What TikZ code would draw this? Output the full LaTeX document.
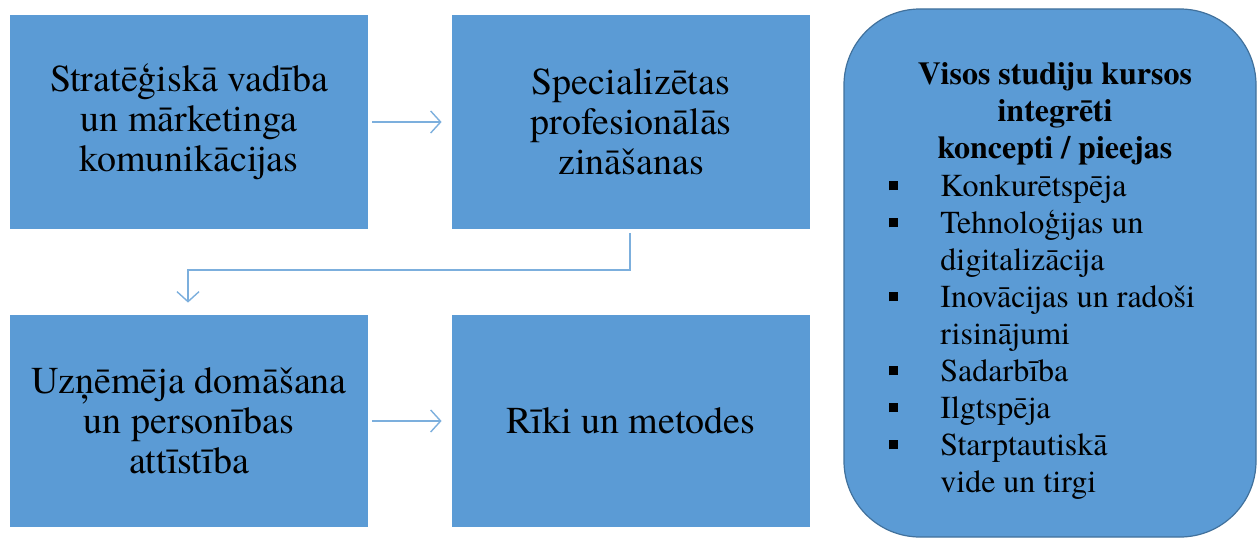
\documentclass[tikz,border=0pt]{standalone}
\usepackage{fontspec}
\setmainfont{texgyretermes}[Extension=.otf,UprightFont=*-regular,BoldFont=*-bold,ItalicFont=*-italic,BoldItalicFont=*-bolditalic]
\usetikzlibrary{arrows.meta}
\definecolor{boxblue}{HTML}{5B9BD5}
\definecolor{edgeblue}{HTML}{41719C}
\begin{document}
\begin{tikzpicture}[x=0.5pt,y=-0.5pt,
  stepbox/.style={fill=boxblue,draw=none,minimum width=179pt,minimum height=107pt,
    inner sep=0pt,align=center,font=\fontsize{19}{20}\selectfont},
  flow/.style={draw=boxblue!80,line width=0.7pt,-{Straight Barb[length=5pt,width=11pt,line width=0.7pt]}}]
\useasboundingbox (0,0) rectangle (1258,540);
\node[stepbox] (b1) at (189,122) {Stratēģiskā vadība\\un mārketinga\\komunikācijas};
\node[stepbox] (b2) at (631,122) {Specializētas\\profesionālās\\zināšanas};
\node[stepbox, minimum height=106pt] (b3) at (189,421) {Uzņēmēja domāšana\\un personības\\attīstība};
\node[stepbox, minimum height=106pt] (b4) at (631,421) {Rīki un metodes};
\node[fill=boxblue,draw=edgeblue,line width=0.6pt,rounded corners=38pt,
  minimum width=206pt,minimum height=264pt,inner sep=0pt] (b5) at (1050,273) {};
\node[font=\bfseries\fontsize{16}{18.5}\selectfont,align=center] (title) at (1055,114)
  {Visos studiju kursos\\integrēti\\koncepti / pieejas};
\node[anchor=north west,inner sep=0pt,font=\fontsize{16}{18.5}\selectfont] (list) at (889,170)
  {\def\sq{\raisebox{3pt}{\rule{4.5pt}{4.5pt}}}%
   \renewcommand{\arraystretch}{1}%
   \begin{tabular}{@{}p{25.5pt}@{}l@{}}
   \sq & Konkurētspēja\\
   \sq & Tehnoloģijas un\\
       & digitalizācija\\
   \sq & Inovācijas un radoši\\
       & risinājumi\\
   \sq & Sadarbība\\
   \sq & Ilgtspēja\\
   \sq & Starptautiskā\\
       & vide un tirgi
   \end{tabular}};
\draw[flow] ([xshift=2pt]b1.east) -- ([xshift=-5pt]b2.west);
\draw[flow] ([xshift=2pt]b3.east) -- ([xshift=-5pt]b4.west);
\coordinate (k1) at (630,270);
\coordinate (k2) at (188,270);
\draw[flow] ([yshift=-2pt]b2.south -| k1) -- (k1) -- (k2) -- ([yshift=6pt]b3.north -| k2);
\end{tikzpicture}
\end{document}
